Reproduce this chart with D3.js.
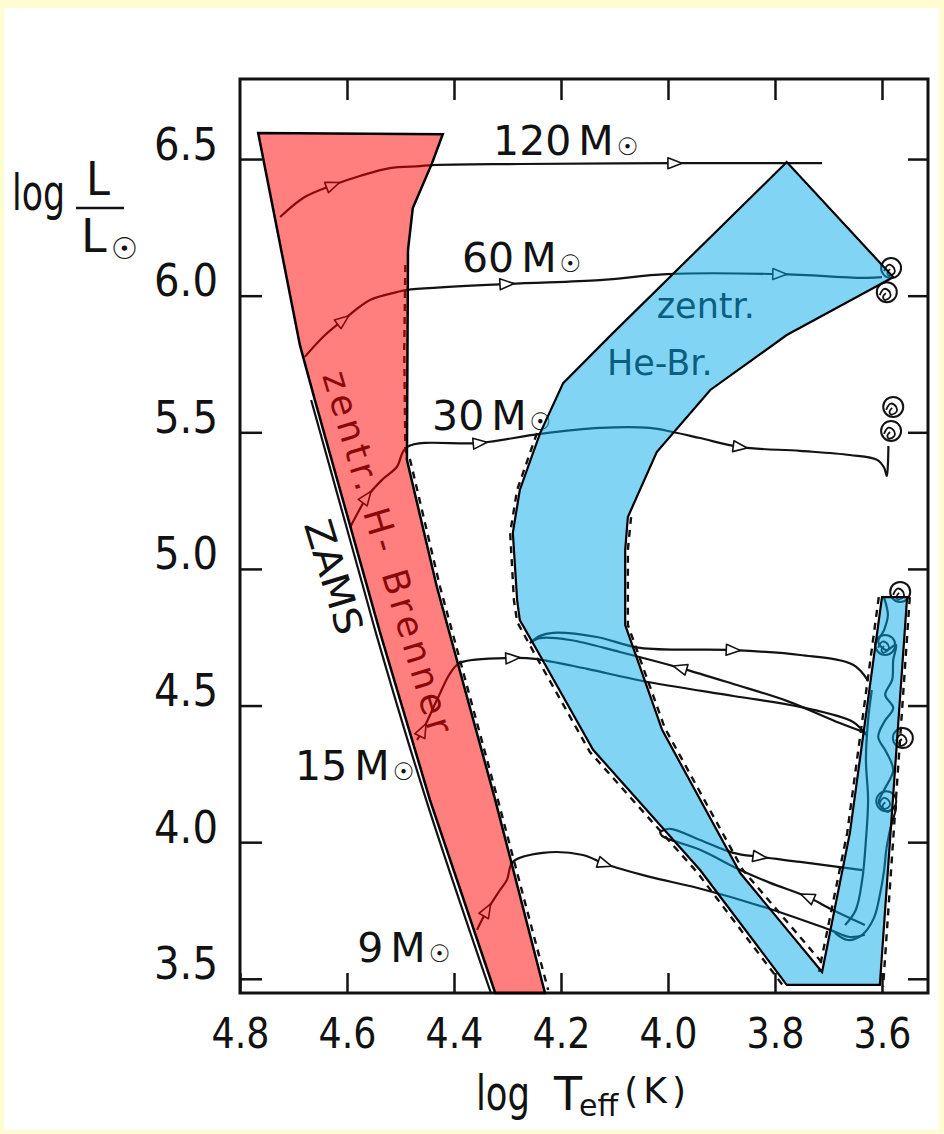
<!DOCTYPE html>
<html>
<head>
<meta charset="utf-8">
<script src="https://cdn.jsdelivr.net/npm/d3@7"></script>
<style>
  html, body { margin: 0; padding: 0; background: #fffcd2; }
  svg { display: block; }
</style>
</head>
<body>
<svg id="chart" width="944" height="1134"></svg>
<script>
// ---------- data (log Teff, log L/Lsun) ----------
const tExtent = [4.8, 3.514];
const lExtent = [3.448, 6.793];
const tTicks = [4.8, 4.6, 4.4, 4.2, 4.0, 3.8, 3.6];
const tTickLabels = ["4.8", "4.6", "4.4", "4.2", "4.0", "3.8", "3.6"];
const lTicks = [3.5, 4.0, 4.5, 5.0, 5.5, 6.0, 6.5];
const lTickLabels = ["3.5", "4.0", "4.5", "5.0", "5.5", "6.0", "6.5"];

// central hydrogen burning band
const hBand = [
  [4.766, 6.595], [4.421, 6.591], [4.441, 6.485], [4.477, 6.321], [4.486, 6.167],
  [4.488, 5.399], [4.432, 4.934], [4.323, 4.155], [4.230, 3.448], [4.323, 3.448],
  [4.445, 4.155], [4.538, 4.766], [4.660, 5.618], [4.688, 5.819]
];
// central helium burning band
const heBand = [
  [3.778, 6.489], [4.103, 5.863], [4.196, 5.680], [4.239, 5.497], [4.277, 5.289],
  [4.290, 5.132], [4.282, 4.886], [4.277, 4.813], [4.245, 4.703], [4.140, 4.338],
  [3.940, 3.898], [3.778, 3.478], [3.604, 3.478], [3.553, 4.897], [3.600, 4.897],
  [3.660, 4.034], [3.712, 3.525], [3.865, 3.887], [4.011, 4.411], [4.080, 4.795],
  [4.080, 5.069], [4.075, 5.190], [4.021, 5.428], [3.921, 5.655], [3.778, 5.856],
  [3.579, 6.068]
];
// zero-age main sequence
const zams = [[4.667, 5.618], [4.563, 4.886], [4.546, 4.766], [4.452, 4.155], [4.331, 3.448]];

// original dashed band boundaries
const dashedEdges = [
  [[4.491, 6.112], [4.493, 5.801], [4.491, 5.435], [4.482, 5.399], [4.426, 4.934], [4.318, 4.155], [4.224, 3.459]],
  [[4.245, 5.497], [4.282, 5.289], [4.295, 5.132], [4.288, 4.886], [4.282, 4.806], [4.250, 4.692], [4.146, 4.330], [3.946, 3.891], [3.783, 3.470]],
  [[4.069, 5.190], [4.075, 5.069], [4.075, 4.795], [4.006, 4.418], [3.860, 3.898], [3.707, 3.547]],
  [[3.606, 4.897], [3.665, 4.034], [3.718, 3.525]],
  [[3.548, 4.897], [3.598, 3.470]]
];

// evolutionary tracks
const track120 = [[4.725, 6.288], [4.679, 6.361], [4.626, 6.405], [4.576, 6.438], [4.520, 6.467],
  [4.464, 6.474], [4.441, 6.478], [4.277, 6.482], [3.987, 6.485], [3.712, 6.485]];
const track60 = [[4.679, 5.776], [4.641, 5.856], [4.607, 5.911], [4.557, 5.984], [4.507, 6.013],
  [4.488, 6.021], [4.301, 6.043], [4.127, 6.057], [4.002, 6.079], [3.791, 6.079], [3.628, 6.065], [3.600, 6.068]];
const track30 = [[4.594, 5.153], [4.579, 5.208], [4.563, 5.263], [4.535, 5.325], [4.507, 5.373],
  [4.488, 5.446], [4.351, 5.461], [4.239, 5.494], [4.127, 5.516], [4.034, 5.516], [3.991, 5.501],
  [3.940, 5.479], [3.865, 5.446], [3.753, 5.432], [3.660, 5.417], [3.609, 5.399], [3.596, 5.370],
  [3.591, 5.340], [3.589, 5.380], [3.588, 5.450]];
const track15a = [[4.469, 4.374], [4.458, 4.411], [4.432, 4.520], [4.407, 4.619], [4.389, 4.656],
  [4.290, 4.674], [4.249, 4.671], [4.151, 4.634], [4.047, 4.590], [3.878, 4.535], [3.753, 4.495],
  [3.654, 4.440], [3.630, 4.392]];
const track15b = [[3.630, 4.400], [3.679, 4.436], [3.778, 4.517], [3.878, 4.579], [3.978, 4.638],
  [4.090, 4.696], [4.183, 4.740], [4.239, 4.747], [4.258, 4.729]];
const track15c = [[4.258, 4.729], [4.239, 4.755], [4.215, 4.766], [4.133, 4.751], [4.052, 4.711],
  [3.878, 4.703], [3.753, 4.685], [3.654, 4.649], [3.626, 4.590]];
const track9a = [[4.357, 3.679], [4.338, 3.752], [4.314, 3.825], [4.301, 3.862], [4.290, 3.928],
  [4.234, 3.961], [4.159, 3.953], [4.118, 3.920], [4.034, 3.873], [3.946, 3.833], [3.815, 3.759],
  [3.697, 3.679], [3.660, 3.653], [3.632, 3.661]];
const track9b = [[3.632, 3.697], [3.692, 3.752], [3.740, 3.800], [3.809, 3.851], [3.865, 3.898],
  [3.940, 3.972], [4.011, 4.023], [4.015, 4.038]];
const track9c = [[4.015, 4.038], [3.996, 4.049], [3.940, 4.008], [3.878, 3.961], [3.828, 3.946],
  [3.753, 3.928], [3.679, 3.909], [3.637, 3.898]];
// red supergiant phases
const rsgA = [[3.596, 4.894], [3.589, 4.831], [3.596, 4.777], [3.607, 4.733], [3.592, 4.703],
  [3.574, 4.722], [3.579, 4.667], [3.581, 4.594], [3.594, 4.539], [3.579, 4.491], [3.596, 4.440],
  [3.607, 4.385], [3.592, 4.330], [3.579, 4.264], [3.596, 4.191], [3.606, 4.144], [3.589, 4.111],
  [3.574, 4.133], [3.585, 4.045], [3.592, 3.972], [3.596, 3.898], [3.604, 3.807], [3.615, 3.723],
  [3.637, 3.661], [3.664, 3.642], [3.688, 3.668]];
const rsgB = [[3.619, 4.557], [3.626, 4.447], [3.630, 4.301], [3.626, 4.155], [3.630, 4.008],
  [3.637, 3.862], [3.649, 3.752], [3.669, 3.697]];
// loops at the cool end of the tracks
const loops = [[3.583, 6.101], [3.591, 6.013], [3.579, 5.593], [3.583, 5.505], [3.566, 4.916], [3.561, 4.381], [3.594, 4.722], [3.592, 4.150]];

const tracks = [track120, track60, track30, track15a, track15b, track15c, track9a, track9b, track9c, rsgA, rsgB];
// direction arrows: [track index, point index]
const arrows = [[0, 2], [0, 8], [1, 2], [1, 6], [1, 9], [2, 2], [2, 6], [2, 12],
  [3, 1], [3, 5], [4, 4], [5, 5], [6, 1], [6, 7], [7, 2], [8, 4]];

const massLabels = ["120", "60", "30", "15", "9"];

// ---------- drawing ----------
const W = 944, H = 1134;
const ink = "#121212";
const font = "'DejaVu Sans', sans-serif";
const svg = d3.select("#chart");

svg.append("rect").attr("width", W).attr("height", H).attr("fill", "#fffcd2");
svg.append("rect").attr("x", 4).attr("y", 8).attr("width", 935).attr("height", 1122).attr("fill", "#ffffff");

const x = d3.scaleLinear().domain(tExtent).range([240, 928]);
const y = d3.scaleLinear().domain(lExtent).range([993, 79]);

const smooth = d3.line().x(d => x(d[0])).y(d => y(d[1])).curve(d3.curveCatmullRom.alpha(0.5));
const straight = d3.line().x(d => x(d[0])).y(d => y(d[1]));

const gBase = svg.append("g");
const gTint = svg.append("g");
const gEdge = svg.append("g");

// frame
gBase.append("rect")
  .attr("x", x(tExtent[0])).attr("y", y(lExtent[1]))
  .attr("width", x(tExtent[1]) - x(tExtent[0]))
  .attr("height", y(lExtent[0]) - y(lExtent[1]))
  .attr("fill", "none").attr("stroke", ink).attr("stroke-width", 3);

// axes
const styleTicks = g => {
  g.select(".domain").remove();
  g.selectAll(".tick line").attr("stroke", ink).attr("stroke-width", 2.5);
};
const gy = gBase.append("g").attr("transform", `translate(${x(tExtent[0])},0)`)
  .call(d3.axisLeft(y).tickValues(lTicks).tickFormat((d, i) => lTickLabels[i]).tickSize(-22).tickPadding(22));
styleTicks(gy);
gy.selectAll(".tick text").attr("font-family", font).attr("font-size", 44).attr("fill", ink)
  .attr("dy", "0em").attr("textLength", 64).attr("lengthAdjust", "spacingAndGlyphs");

const gx = gBase.append("g").attr("transform", `translate(0,${y(lExtent[0])})`)
  .call(d3.axisBottom(x).tickValues(tTicks).tickFormat((d, i) => tTickLabels[i]).tickSize(-20));
styleTicks(gx);
gx.selectAll(".tick text").attr("font-family", font).attr("font-size", 42).attr("fill", ink)
  .attr("y", 55).attr("dy", "0em").attr("textLength", 58).attr("lengthAdjust", "spacingAndGlyphs");

const gt = gBase.append("g").attr("transform", `translate(0,${y(lExtent[1])})`)
  .call(d3.axisTop(x).tickValues(tTicks.slice(1)).tickFormat("").tickSize(-21));
styleTicks(gt);
const gr = gBase.append("g").attr("transform", `translate(${x(tExtent[1])},0)`)
  .call(d3.axisRight(y).tickValues(lTicks).tickFormat("").tickSize(-20));
styleTicks(gr);

// axis titles
const yt = gBase.append("g").attr("font-family", font).attr("fill", ink);
yt.append("text").attr("x", 12).attr("y", 210).attr("font-size", 50)
  .attr("textLength", 53).attr("lengthAdjust", "spacingAndGlyphs").text("log");
yt.append("text").attr("x", 86).attr("y", 195).attr("font-size", 46)
  .attr("textLength", 24).attr("lengthAdjust", "spacingAndGlyphs").text("L");
yt.append("line").attr("x1", 76).attr("x2", 124).attr("y1", 208).attr("y2", 208)
  .attr("stroke", ink).attr("stroke-width", 2.5);
const lsun = yt.append("text").attr("x", 81).attr("y", 252).attr("font-size", 46);
lsun.append("tspan").text("L");
lsun.append("tspan").attr("font-size", 30).attr("dx", 4).attr("dy", 7).text("☉");

const xt = gBase.append("text").attr("x", 476).attr("y", 1110).attr("font-family", font).attr("fill", ink);
xt.append("tspan").attr("font-size", 48).attr("textLength", 54).attr("lengthAdjust", "spacingAndGlyphs").text("log");
xt.append("tspan").attr("font-size", 46).attr("dx", 24).text("T");
xt.append("tspan").attr("font-size", 30).attr("dy", 6).attr("dx", -3).text("eff");
xt.append("tspan").attr("font-size", 36).attr("dy", -13).attr("dx", 6)
  .attr("letter-spacing", 5).text("(K)");

// dashed band boundaries
gBase.selectAll("path.dash").data(dashedEdges).join("path").attr("class", "dash")
  .attr("d", straight).attr("fill", "none").attr("stroke", ink)
  .attr("stroke-width", 2.4).attr("stroke-dasharray", "7,6");

// ZAMS
gBase.append("path").attr("d", smooth(zams)).attr("fill", "none").attr("stroke", ink).attr("stroke-width", 2.2);

// tracks
gBase.selectAll("path.track").data(tracks).join("path").attr("class", "track")
  .attr("d", smooth).attr("fill", "none").attr("stroke", ink)
  .attr("stroke-width", 2.2).attr("stroke-linejoin", "round");

// loops
gBase.selectAll("circle.loop").data(loops).join("circle").attr("class", "loop")
  .attr("cx", d => x(d[0])).attr("cy", d => y(d[1])).attr("r", 10)
  .attr("fill", "none").attr("stroke", ink).attr("stroke-width", 2);
gBase.selectAll("path.curl").data(loops).join("path").attr("class", "curl")
  .attr("d", d => {
    const cx = x(d[0]), cy = y(d[1]);
    return `M${cx - 7},${cy + 3} q4,-11 10,-3 q3,6 -5,8 q-4,-3 1,-7`;
  })
  .attr("fill", "none").attr("stroke", ink).attr("stroke-width", 1.8);

// arrows
gBase.selectAll("path.arrow").data(arrows).join("path").attr("class", "arrow")
  .attr("d", "M-7,-5.5L7,0L-7,5.5Z")
  .attr("transform", ([k, i]) => {
    const p = tracks[k][i], a = tracks[k][i - 1], b = tracks[k][i + 1];
    const ang = Math.atan2(y(b[1]) - y(a[1]), x(b[0]) - x(a[0])) * 180 / Math.PI;
    return `translate(${x(p[0])},${y(p[1])}) rotate(${ang})`;
  })
  .attr("fill", "#fff").attr("stroke", ink).attr("stroke-width", 1.6).attr("stroke-linejoin", "round");

// mass labels
const labelAt = [[4.327, 6.515], [4.385, 6.087], [4.441, 5.508], [4.697, 4.228], [4.581, 3.562]];
const ml = gBase.selectAll("text.mass").data(massLabels).join("text").attr("class", "mass")
  .attr("x", (d, i) => x(labelAt[i][0])).attr("y", (d, i) => y(labelAt[i][1]))
  .attr("font-family", font).attr("font-size", 41).attr("fill", ink);
ml.append("tspan").text(d => d);
ml.append("tspan").attr("dx", 7).text("M");
ml.append("tspan").attr("font-size", 24).attr("dx", 3).text("☉");

// band annotations
gBase.append("text")
  .attr("transform", `translate(${x(4.624)},${y(4.971)}) rotate(73)`)
  .attr("text-anchor", "middle").attr("dy", "0.36em")
  .attr("font-family", font).attr("font-size", 38).attr("fill", ink)
  .attr("textLength", 118).attr("lengthAdjust", "spacingAndGlyphs").text("ZAMS");
gBase.append("text")
  .attr("transform", `translate(${x(4.523)},${y(5.062)}) rotate(73.4)`)
  .attr("text-anchor", "middle").attr("dy", "0.36em")
  .attr("font-family", font).attr("font-size", 36).attr("fill", ink)
  .attr("textLength", 376).attr("lengthAdjust", "spacing").text("zentr.  H- Brenner");
gBase.append("text").attr("x", x(4.021)).attr("y", y(5.918))
  .attr("font-family", font).attr("font-size", 35).attr("fill", ink).text("zentr.");
gBase.append("text").attr("x", x(4.114)).attr("y", y(5.710))
  .attr("font-family", font).attr("font-size", 35).attr("fill", ink).text("He-Br.");

// translucent bands
gTint.append("path").attr("d", straight(hBand) + "Z").attr("fill", "rgb(255,0,0)").attr("fill-opacity", 0.5);
gTint.append("path").attr("d", straight(heBand) + "Z").attr("fill", "rgb(5,170,235)").attr("fill-opacity", 0.5);

// band outlines
gEdge.append("path").attr("d", straight(hBand) + "Z").attr("fill", "none")
  .attr("stroke", "#000").attr("stroke-width", 2.5).attr("stroke-linejoin", "miter");
gEdge.append("path").attr("d", straight(heBand) + "Z").attr("fill", "none")
  .attr("stroke", "#000").attr("stroke-width", 2.2).attr("stroke-linejoin", "miter");
</script>
</body>
</html>
